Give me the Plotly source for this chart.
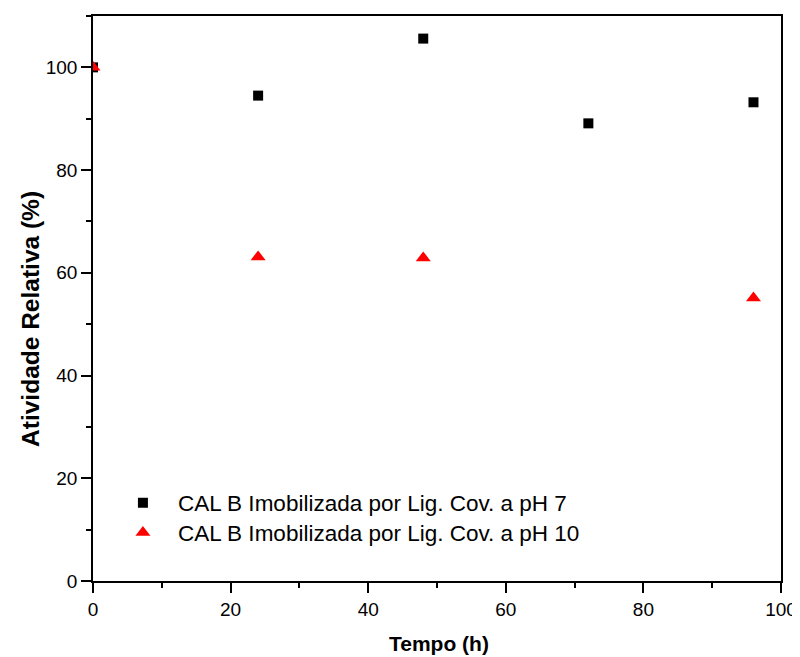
import plotly.graph_objects as go

tempo_ph7 = [0, 24, 48, 72, 96]
atividade_ph7 = [100, 94.5, 105.6, 89.1, 93.2]
tempo_ph10 = [0, 24, 48, 96]
atividade_ph10 = [100, 63.1, 62.9, 55.1]
nome_ph7 = "CAL B Imobilizada por Lig. Cov. a pH 7"
nome_ph10 = "CAL B Imobilizada por Lig. Cov. a pH 10"
titulo_x = "Tempo (h)"
titulo_y = "Atividade Relativa (%)"

fig = go.Figure()
fig.add_trace(go.Scatter(x=tempo_ph7, y=atividade_ph7, mode="markers", name=nome_ph7, showlegend=True,
                         marker=dict(symbol="square", size=10, color="black"), legend="legend"))
fig.add_trace(go.Scatter(x=tempo_ph10, y=atividade_ph10, mode="markers", name=nome_ph10, showlegend=True,
                         marker=dict(symbol="triangle-up", size=13, color="red"), legend="legend2"))

font_family = "Liberation Sans, Arial, sans-serif"
axis_common = dict(
    showline=True, linecolor="black", linewidth=1.5, mirror=True,
    ticks="outside", ticklen=10, tickwidth=1.5, tickcolor="black",
    showgrid=False, zeroline=False, automargin=False,
    tickfont=dict(family=font_family, size=19, color="black"),
    minor=dict(ticks="outside", ticklen=5, tickwidth=1.5, tickcolor="black", dtick=10, showgrid=False),
)
fig.update_xaxes(range=[0, 100], dtick=20, **axis_common)
fig.update_yaxes(range=[0, 110], tickvals=[0, 20, 40, 60, 80, 100], **axis_common)

fig.add_annotation(text="<b>" + titulo_x + "</b>", xref="paper", yref="paper",
                   x=0.503, y=-0.111, xanchor="center", yanchor="middle", showarrow=False,
                   font=dict(family=font_family, size=21, color="black"))
fig.add_annotation(text="<b>" + titulo_y + "</b>", xref="paper", yref="paper", textangle=-90,
                   x=-0.090, y=0.464, xanchor="center", yanchor="middle", showarrow=False,
                   font=dict(family=font_family, size=24.5, color="black"))

legend_common = dict(xanchor="left", yanchor="middle", bgcolor="rgba(0,0,0,0)", visible=True,
                     font=dict(family=font_family, size=22.5, color="black"), itemwidth=60)

# the page places the figure at an 8px body offset, so size it to fit the window
fig.update_layout(
    width=792, height=649,
    margin=dict(l=85, r=19, t=8, b=76),
    plot_bgcolor="white", paper_bgcolor="white",
    font=dict(family=font_family, color="black"),
    showlegend=True,
    legend=dict(x=0.0217, y=0.138, **legend_common),
    legend2=dict(x=0.0217, y=0.085, **legend_common),
)
fig.write_html("out.html")
